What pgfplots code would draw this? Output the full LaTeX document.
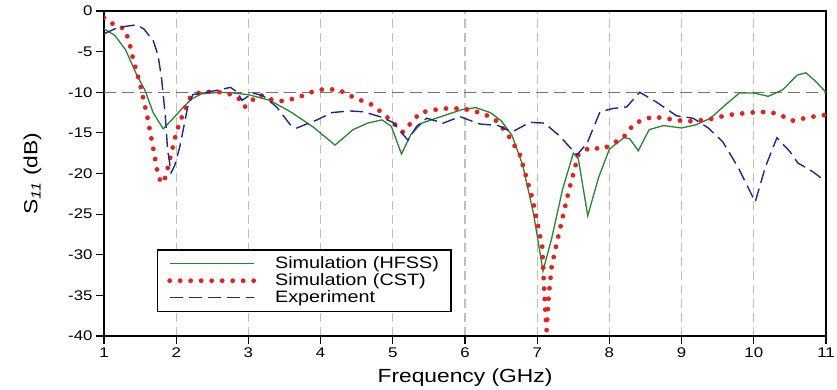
\documentclass[border=0pt]{standalone}
\usepackage{fontspec}
\setmainfont{Liberation Sans}[FakeStretch=1.2]
\usepackage{pgfplots}
\pgfplotsset{compat=1.18}
\definecolor{hfss}{RGB}{35,135,45}
\definecolor{cst}{RGB}{235,30,30}
\definecolor{expc}{RGB}{30,40,145}
\begin{document}
\begin{tikzpicture}
\useasboundingbox (-104pt,-53pt) rectangle (733pt,336pt);
\begin{axis}[
  scale only axis, width=722pt, height=325pt,
  xmin=1, xmax=11, ymin=-40, ymax=0,
  xtick={1,2,...,11}, ytick={-40,-35,...,0},
  tick pos=left, tick align=outside, major tick length=8pt,
  axis line style={line width=1.3pt},
  every tick/.style={line width=1.1pt, black},
  /pgf/number format/assume math mode=true,
  tick label style={font=\fontsize{14pt}{16pt}\selectfont},
  xmajorgrids,
  major grid style={color=black!25, line width=1.2pt, dash pattern=on 9pt off 5pt},
  extra y ticks={-10}, extra y tick labels={},
  extra y tick style={ymajorgrids=true, major tick length=0pt,
     major grid style={color=black!55, line width=1.3pt, dash pattern=on 12pt off 6pt}},
  xlabel={Frequency (GHz)},
  ylabel={S\textsubscript{\textit{11}} (dB)},
  label style={font=\fontsize{19pt}{22pt}\selectfont},
  xlabel style={at={(axis description cs:0.5,-0.129)}, anchor=center},
  ylabel style={at={(axis description cs:-0.099,0.5)}, anchor=center},
  legend cell align=left,
  legend style={at={(0.073,0.074)}, anchor=south west, line width=1.1pt,
     font=\fontsize{16.5pt}{18pt}\selectfont, inner xsep=10pt, inner ysep=5pt,
     row sep=-0.5pt, /tikz/every odd column/.append style={column sep=17pt}},
  legend image code/.code={\draw[#1] (0pt,0pt) -- (84pt,0pt);},
]
\addplot[color=hfss, draw=hfss, line width=1.3pt] coordinates {
(1.0,-2.2) (1.15,-3.0) (1.3,-4.8) (1.45,-7.8) (1.57,-9.8) (1.68,-12.5) (1.82,-14.5)
(1.95,-13.3) (2.1,-11.8) (2.22,-10.8) (2.35,-10.2) (2.6,-10) (2.8,-10.1) (3.0,-10.3)
(3.3,-11) (3.6,-12.5) (3.9,-14.3) (4.2,-16.5) (4.45,-14.6) (4.65,-13.8) (4.85,-13.4)
(4.98,-14.2) (5.12,-17.6) (5.25,-15.2) (5.4,-13.8) (5.7,-12.9) (5.97,-12.1) (6.15,-11.9)
(6.35,-12.5) (6.5,-13.5) (6.65,-15.3) (6.8,-19) (6.95,-25) (7.08,-32) (7.2,-28)
(7.35,-22) (7.5,-17.5) (7.57,-18.2) (7.7,-25.2) (7.85,-20.5) (8.0,-17) (8.2,-15.6)
(8.28,-15.7) (8.4,-17.2) (8.55,-14.6) (8.75,-14.1) (9.0,-14.4) (9.2,-14) (9.4,-13.2)
(9.6,-11.6) (9.8,-10.1) (10.0,-10.1) (10.2,-10.5) (10.4,-9.7) (10.6,-7.9) (10.72,-7.6)
(10.85,-8.6) (11.0,-10.0)
};
\addlegendentry{Simulation (HFSS)}
\addplot[color=cst, draw=cst, line width=4.8pt, line cap=round, dash pattern=on 0pt off 10.5pt] coordinates {
(1.0,-0.8) (1.1,-1.5) (1.2,-1.8) (1.29,-2.3) (1.35,-3.8) (1.4,-5.8) (1.5,-9) (1.6,-13)
(1.68,-16.8) (1.74,-19.8) (1.79,-21.2) (1.85,-20.5) (1.92,-18) (2.0,-15) (2.1,-12.5)
(2.2,-10.5) (2.3,-10.1) (2.5,-9.9) (2.7,-10.1) (2.85,-10.6) (2.95,-11.8) (3.05,-11)
(3.15,-10.3) (3.35,-11) (3.5,-11.1) (3.7,-10.6) (3.9,-9.9) (4.05,-9.6) (4.25,-9.7)
(4.45,-10.6) (4.7,-11.5) (4.85,-12.5) (5.0,-13.7) (5.14,-14.9) (5.26,-13.7) (5.38,-12.5)
(5.68,-12) (5.97,-12) (6.25,-12.6) (6.42,-13.4) (6.58,-15) (6.76,-17.7) (6.94,-23.3)
(7.07,-29) (7.1,-35) (7.13,-39.3) (7.16,-35) (7.2,-31.5) (7.27,-28.6) (7.43,-22.4) (7.57,-17.7)
(7.73,-16.8) (7.91,-17) (8.19,-15.6) (8.35,-13.8) (8.6,-13) (9.07,-13.6) (9.35,-13.4)
(9.64,-12.8) (9.95,-12.5) (10.22,-12.4) (10.39,-12.9) (10.53,-13.5) (10.82,-13) (11.0,-12.8)
};
\addlegendentry{Simulation (CST)}
\addplot[color=expc, draw=expc, line width=1.4pt, dash pattern=on 13pt off 6pt] coordinates {
(1.0,-2.8) (1.15,-2.2) (1.29,-1.9) (1.45,-1.7) (1.55,-2.2) (1.68,-3.6) (1.75,-5.5)
(1.8,-8.5) (1.85,-13) (1.88,-17) (1.93,-19.9) (1.98,-19) (2.05,-16.7) (2.16,-11.8)
(2.23,-10.3) (2.42,-10) (2.6,-9.7) (2.75,-9.4) (2.85,-10) (2.91,-11) (3.06,-10.1)
(3.2,-10.4) (3.39,-11.8) (3.58,-14) (3.67,-14.4) (3.95,-13.4) (4.16,-12.5) (4.4,-12.3)
(4.59,-12.4) (4.82,-13) (5.0,-13.7) (5.21,-15.9) (5.33,-14.2) (5.47,-13.2) (5.7,-13.8)
(5.93,-13) (6.2,-13.9) (6.46,-14.1) (6.65,-14.9) (6.9,-13.7) (7.1,-13.8) (7.3,-15.3)
(7.55,-17.7) (7.69,-16.3) (7.87,-12.4) (8.05,-12) (8.24,-11.8) (8.42,-10) (8.65,-11.2)
(8.93,-12.9) (9.16,-13.2) (9.37,-14.4) (9.57,-16.1) (9.78,-19.2) (10.02,-23.5)
(10.16,-19.2) (10.32,-15.6) (10.5,-17.3) (10.61,-18.7) (10.82,-19.8) (11.0,-21)
};
\addlegendentry{Experiment}
\end{axis}
\end{tikzpicture}
\end{document}
